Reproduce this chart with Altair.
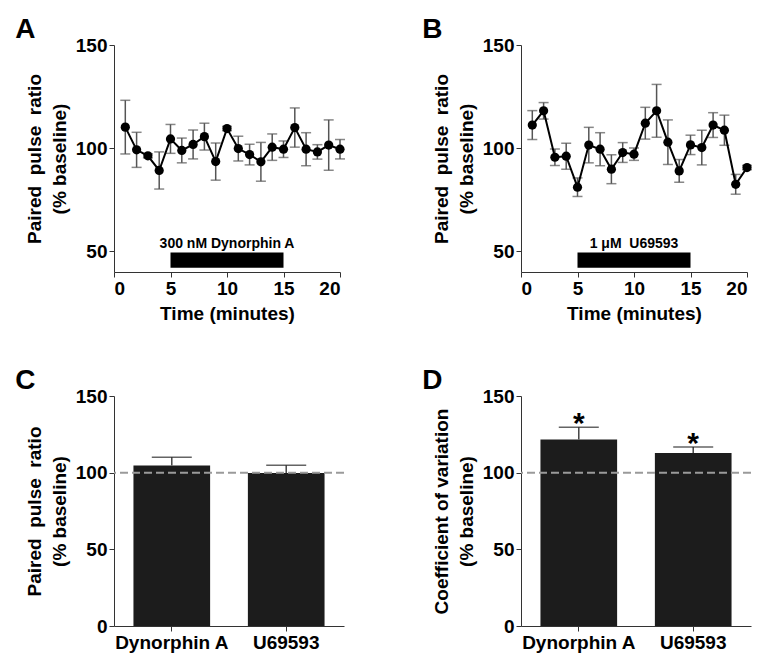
import altair as alt
import pandas as pd

FONT = "Liberation Sans"

# ---------------- data ----------------
time_min = list(range(1, 21))
dyn_ppr = [110.2, 99.2, 96.3, 89.2, 104.5, 98.9, 101.8, 105.6, 93.5, 109.5,
           99.8, 96.9, 93.4, 100.5, 99.5, 110.0, 99.5, 98.2, 101.5, 99.5]
dyn_sem = [13.0, 8.5, 1.0, 9.0, 7.0, 6.0, 7.0, 6.5, 9.0, 1.0,
           6.0, 5.0, 9.4, 6.4, 4.0, 9.5, 8.0, 3.5, 12.2, 4.7]
u69_ppr = [111.2, 118.1, 95.6, 96.1, 81.1, 101.5, 99.5, 89.8, 97.9, 97.1,
           112.1, 118.1, 102.9, 89.0, 101.6, 100.3, 111.2, 108.7, 82.5, 90.6]
u69_sem = [7.0, 4.0, 4.0, 6.3, 4.5, 8.6, 8.0, 7.0, 4.8, 3.0,
           7.7, 12.8, 10.8, 5.5, 4.7, 8.4, 6.0, 7.3, 4.8, 1.0]

drug_start = [5]
drug_end = [15]
dyn_label = ["300 nM Dynorphin A"]
u69_label = ["1 \u03bcM\u00a0 U69593"]

groups = ["Dynorphin A", "U69593"]
ppr_mean = [104.6, 99.8]
ppr_sem = [5.4, 5.0]
cv_mean = [121.7, 112.9]
cv_sem = [8.0, 3.8]
cv_sig = ["*", "*"]
baseline = [100]

PPR_TITLE = ["Paired\u00a0 pulse\u00a0 ratio", "(% baseline)"]
CV_TITLE = ["Coefficient of variation", "(% baseline)"]

TOP_W, TOP_H = 226, 227
BOT_W, BOT_H = 230, 230


def letter_title(letter):
    return alt.TitleParams(letter, anchor="start", frame="bounds",
                           fontSize=28, font=FONT, fontWeight="bold",
                           color="black", dx=-10, offset=-8)


def time_panel(ppr, sem, label, letter):
    df = pd.DataFrame({
        "t": time_min,
        "ppr": ppr,
        "lo": [p - s for p, s in zip(ppr, sem)],
        "hi": [p + s for p, s in zip(ppr, sem)],
    })
    drug = pd.DataFrame({"start": drug_start, "end": drug_end, "label": label,
                         "mid": [(a + b) / 2 for a, b in zip(drug_start, drug_end)]})

    xs = alt.Scale(domain=[0, 20], nice=False, zero=False)
    ys = alt.Scale(domain=[40, 150], nice=False, zero=False)
    xax = alt.Axis(values=[0, 5, 10, 15, 20], title="Time (minutes)")
    yax = alt.Axis(values=[50, 100, 150], title=PPR_TITLE)

    def X(f):
        return alt.X(f, type="quantitative", scale=xs, axis=xax)

    def Y(f):
        return alt.Y(f, type="quantitative", scale=ys, axis=yax)

    base = alt.Chart(df)
    err = base.mark_rule(color="#555555", strokeWidth=1.5).encode(
        x=X("t"), y=Y("lo"), y2="hi")
    caps = base.transform_fold(["lo", "hi"], as_=["k", "v"]).mark_tick(
        orient="horizontal", size=10, thickness=1.5, color="#555555").encode(
        x=X("t"), y=Y("v"))
    line = base.mark_line(color="black", strokeWidth=2).encode(x=X("t"), y=Y("ppr"))
    pts = base.mark_circle(size=85, color="black", opacity=1).encode(x=X("t"), y=Y("ppr"))

    dbar = alt.Chart(drug).mark_rect(color="black").encode(
        x=X("start"), x2="end", y=alt.datum(42), y2=alt.datum(49.5))
    dtxt = alt.Chart(drug).mark_text(font=FONT, fontSize=14, fontWeight="bold",
                                     color="black", baseline="middle").encode(
        x=X("mid"), y=alt.datum(53.8), text="label:N")

    return alt.layer(err, caps, line, pts, dbar, dtxt).properties(
        width=TOP_W, height=TOP_H, title=letter_title(letter))


def bar_panel(means, sems, ytitle, letter, sig=None):
    data = {"group": groups, "mean": means,
            "hi": [m + s for m, s in zip(means, sems)]}
    if sig is not None:
        data["sig"] = sig
    df = pd.DataFrame(data)
    ref = pd.DataFrame({"b": baseline})

    xs = alt.Scale(domain=groups, paddingInner=0.33, paddingOuter=0.17)
    ys = alt.Scale(domain=[0, 150], nice=False)
    xax = alt.Axis(title=None, labelAngle=0)
    yax = alt.Axis(values=[0, 50, 100, 150], title=ytitle)

    def X(f):
        return alt.X(f, type="nominal", scale=xs, axis=xax, sort=groups)

    def Y(f):
        return alt.Y(f, type="quantitative", scale=ys, axis=yax)

    base = alt.Chart(df)
    bars = base.mark_bar(color="#1c1c1c").encode(x=X("group"), y=Y("mean"))
    err = base.mark_rule(color="#444444", strokeWidth=1.5).encode(
        x=X("group"), y=Y("mean"), y2="hi")
    cap = base.mark_tick(orient="horizontal", size=40, thickness=1.5,
                         color="#222222").encode(x=X("group"), y=Y("hi"))
    dash = alt.Chart(ref).mark_rule(color="#9a9a9a", strokeWidth=2,
                                    strokeDash=[8, 4]).encode(y=Y("b"))
    layers = [bars, err, cap, dash]
    if sig is not None:
        star = base.mark_text(font=FONT, fontSize=30, fontWeight="bold",
                              color="black", baseline="bottom", dy=12).encode(
            x=X("group"), y=Y("hi"), text="sig:N")
        layers.append(star)
    return alt.layer(*layers).properties(
        width=BOT_W, height=BOT_H, title=letter_title(letter))


pA = time_panel(dyn_ppr, dyn_sem, dyn_label, "A")
pB = time_panel(u69_ppr, u69_sem, u69_label, "B")
pC = bar_panel(ppr_mean, ppr_sem, PPR_TITLE, "C")
pD = bar_panel(cv_mean, cv_sem, CV_TITLE, "D", cv_sig)

top = alt.hconcat(pA, pB, spacing=77)
bottom = alt.hconcat(pC, pD, spacing=77)

chart = alt.vconcat(top, bottom, spacing=44).properties(
    padding={"left": 7, "top": 8, "right": 5, "bottom": 2}
).configure_view(stroke=None).configure_axis(
    grid=False,
    labelFont=FONT, labelFontSize=19, labelFontWeight="bold", labelColor="black",
    titleFont=FONT, titleFontSize=19, titleFontWeight="bold", titleColor="black",
    domainColor="#333333", tickColor="#333333", tickSize=5, labelPadding=2,
    titlePadding=6, titleLineHeight=25,
).configure_axisX(labelPadding=2, titlePadding=6)

chart.save("out.html", embed_options={"renderer": "svg", "actions": False})
